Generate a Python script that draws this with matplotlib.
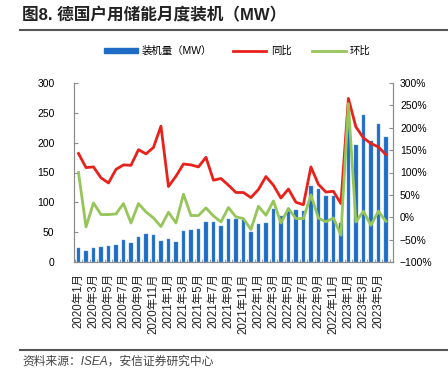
import matplotlib
matplotlib.use("Agg")
import matplotlib.pyplot as plt
from matplotlib.lines import Line2D
from matplotlib.patches import Patch
import numpy as np

plt.rcParams['font.family'] = ['Liberation Sans', 'Noto Sans CJK SC', 'DejaVu Sans']

months = [f"{y}年{m}月" for y in (2020, 2021, 2022, 2023) for m in range(1, 13)][:42]

installs = [22.7, 17.6, 23.3, 25, 26, 28.4, 37, 32.4, 41.5, 46.6, 45.5, 35.8,
            39.2, 34, 51.7, 54, 55.7, 66.5, 67, 60, 72, 71.6, 70, 51,
            63, 66, 89, 76.5, 90.4, 87.6, 84.8, 126.7, 122.8, 110.5, 110.5, 65.3,
            226, 196, 246.6, 202, 231.6, 209]

yoy = [142.5, 111, 112.5, 88, 76.7, 107, 117, 116, 151, 141.6, 156, 203.6,
       68.7, 91.7, 119, 117, 112.5, 134, 82.8, 86.6, 71.6, 55.3, 55.3, 44,
       62, 91, 71.6, 43, 63, 33.5, 28, 112.5, 73.5, 56.3, 58, 30.6,
       265.5, 202, 177.4, 164.9, 157, 140]

mom = [100, -21.7, 32, 6, 6, 7.4, 30.6, -12.8, 30.6, 11.9, -1.6, -20.8,
       11.2, -12.8, 51.5, 3.8, 3.8, 20.8, 3, -10.5, 21.7, 0.7, -3, -27.5,
       24.6, 4.5, 36.5, -12.8, 19.5, -3, -3, 50, -2, -10, -1.6, -40,
       254, -10.5, 13.4, -18, 13.4, -9]

title = "图8. 德国户用储能月度装机（MW）"
source = "资料来源：ISEA，安信证券研究中心"
legend_labels = ["装机量（MW）", "同比", "环比"]

BLUE = "#1F6CC4"
RED = "#E8211B"
GREEN = "#96C55A"
GRAY = "#8C8C8C"

fig = plt.figure(figsize=(4.48, 3.79), dpi=100)
ax = fig.add_axes([74/448, 1-262/379, (393-74)/448, (262-83)/379])
ax2 = ax.twinx()

x = np.arange(len(months))
ax.bar(x, installs, width=0.5, color=BLUE, edgecolor="#5A9BE0", linewidth=0.3, zorder=2)
ax.set_ylim(0, 300)
ax.set_yticks(range(0, 301, 50))
ax.set_xlim(-0.6, len(months) - 0.05)

ax2.plot(x, yoy, color=RED, lw=2.0, zorder=3)
ax2.plot(x, mom, color=GREEN, lw=2.0, zorder=3)
ax2.set_ylim(-100, 300)
ax2.set_yticks(range(-100, 301, 50))
ax2.set_yticklabels([f"{v}%".replace("-", "−") for v in range(-100, 301, 50)])

ax.set_xticks(x[::2])
ax.set_xticklabels(months[::2], rotation=90, fontsize=8.3, color="#222222")
ax.set_xticks(np.arange(-0.5, len(months), 1), minor=True)
ax.tick_params(axis='x', which='major', length=0, pad=8)
ax.tick_params(axis='x', which='minor', direction='in', length=2.5, color=GRAY)
ax.tick_params(axis='y', direction='in', length=3, color=GRAY, labelsize=7.5, pad=14)
ax2.tick_params(axis='y', direction='in', length=3, color=GRAY, labelsize=7.5, pad=5)

for a in (ax, ax2):
    a.spines['top'].set_visible(False)
    for s in ('left', 'right', 'bottom'):
        a.spines[s].set_color(GRAY)
        a.spines[s].set_linewidth(0.8)
    a.set_zorder(1)
ax2.set_zorder(2)
ax2.patch.set_visible(False)

handles = [Patch(facecolor=BLUE, edgecolor=BLUE),
           Line2D([], [], color=RED, lw=2),
           Line2D([], [], color=GREEN, lw=2)]
fig.legend(handles, legend_labels, loc='center', bbox_to_anchor=(0.53, 0.866),
           ncol=3, frameon=False, fontsize=7.5, handlelength=3.2, handleheight=0.4,
           columnspacing=2.0, handletextpad=0.4)

fig.text(22/448, 1-15/379, title, fontsize=12, fontweight='bold', va='center', ha='left',
         color="#222222")
fig.add_artist(Line2D([20/448, 1.0], [1-30/379, 1-30/379], color="#555555", lw=1.5))
fig.add_artist(Line2D([20/448, 1.0], [1-350/379, 1-350/379], color="#555555", lw=1.5))
fig.text(22/448, 1-362/379, source, fontsize=8.5, style='italic', va='center', ha='left',
         color="#444444")

fig.savefig("out.png", dpi=100)
